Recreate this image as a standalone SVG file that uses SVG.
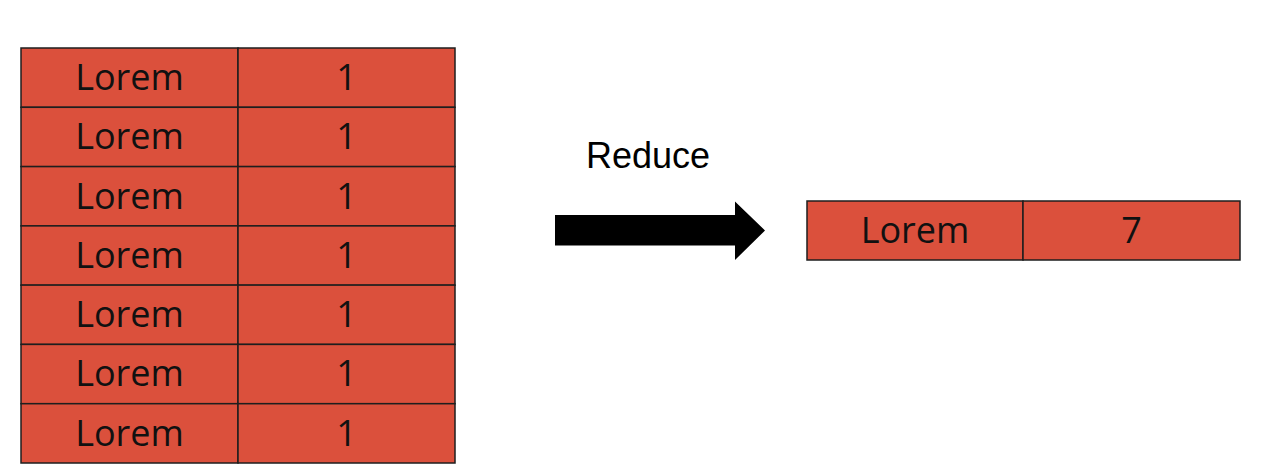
<svg xmlns="http://www.w3.org/2000/svg" width="1270" height="472" viewBox="0 0 1270 472">
<style>
.cell{fill:#db503c;stroke:#1e1e1e;stroke-width:1.5}
.t{font-family:"Open Sans","Noto Sans",sans-serif;font-size:36px;fill:#111;text-anchor:middle}
.lbl{font-family:"Liberation Sans",Arial,sans-serif;font-size:36px;fill:#000}
</style>
<rect width="1270" height="472" fill="#fff"/>
<g id="table-in">
<g id="row1"><rect class="cell" x="21" y="48" width="217" height="59.3"/><rect class="cell" x="238" y="48" width="217" height="59.3"/><text class="t" x="129.5" y="90">Lorem</text><text class="t" x="346.5" y="90">1</text></g>
<g id="row2"><rect class="cell" x="21" y="107.3" width="217" height="59.3"/><rect class="cell" x="238" y="107.3" width="217" height="59.3"/><text class="t" x="129.5" y="149.3">Lorem</text><text class="t" x="346.5" y="149.3">1</text></g>
<g id="row3"><rect class="cell" x="21" y="166.6" width="217" height="59.3"/><rect class="cell" x="238" y="166.6" width="217" height="59.3"/><text class="t" x="129.5" y="208.6">Lorem</text><text class="t" x="346.5" y="208.6">1</text></g>
<g id="row4"><rect class="cell" x="21" y="225.9" width="217" height="59.3"/><rect class="cell" x="238" y="225.9" width="217" height="59.3"/><text class="t" x="129.5" y="267.9">Lorem</text><text class="t" x="346.5" y="267.9">1</text></g>
<g id="row5"><rect class="cell" x="21" y="285.1" width="217" height="59.3"/><rect class="cell" x="238" y="285.1" width="217" height="59.3"/><text class="t" x="129.5" y="327.1">Lorem</text><text class="t" x="346.5" y="327.1">1</text></g>
<g id="row6"><rect class="cell" x="21" y="344.4" width="217" height="59.3"/><rect class="cell" x="238" y="344.4" width="217" height="59.3"/><text class="t" x="129.5" y="386.4">Lorem</text><text class="t" x="346.5" y="386.4">1</text></g>
<g id="row7"><rect class="cell" x="21" y="403.7" width="217" height="59.3"/><rect class="cell" x="238" y="403.7" width="217" height="59.3"/><text class="t" x="129.5" y="445.7">Lorem</text><text class="t" x="346.5" y="445.7">1</text></g>
</g>
<g id="table-out">
<rect class="cell" x="807" y="201" width="216" height="59"/><rect class="cell" x="1023" y="201" width="217" height="59"/>
<text class="t" x="915" y="243">Lorem</text><text class="t" x="1131.5" y="243">7</text>
</g>
<g id="connectors">
<polygon points="555,215 735,215 735,201.5 765,230.5 735,260 735,245.5 555,245.5" fill="#000"/>
<text class="lbl" x="586" y="168">Reduce</text>
</g>
</svg>
